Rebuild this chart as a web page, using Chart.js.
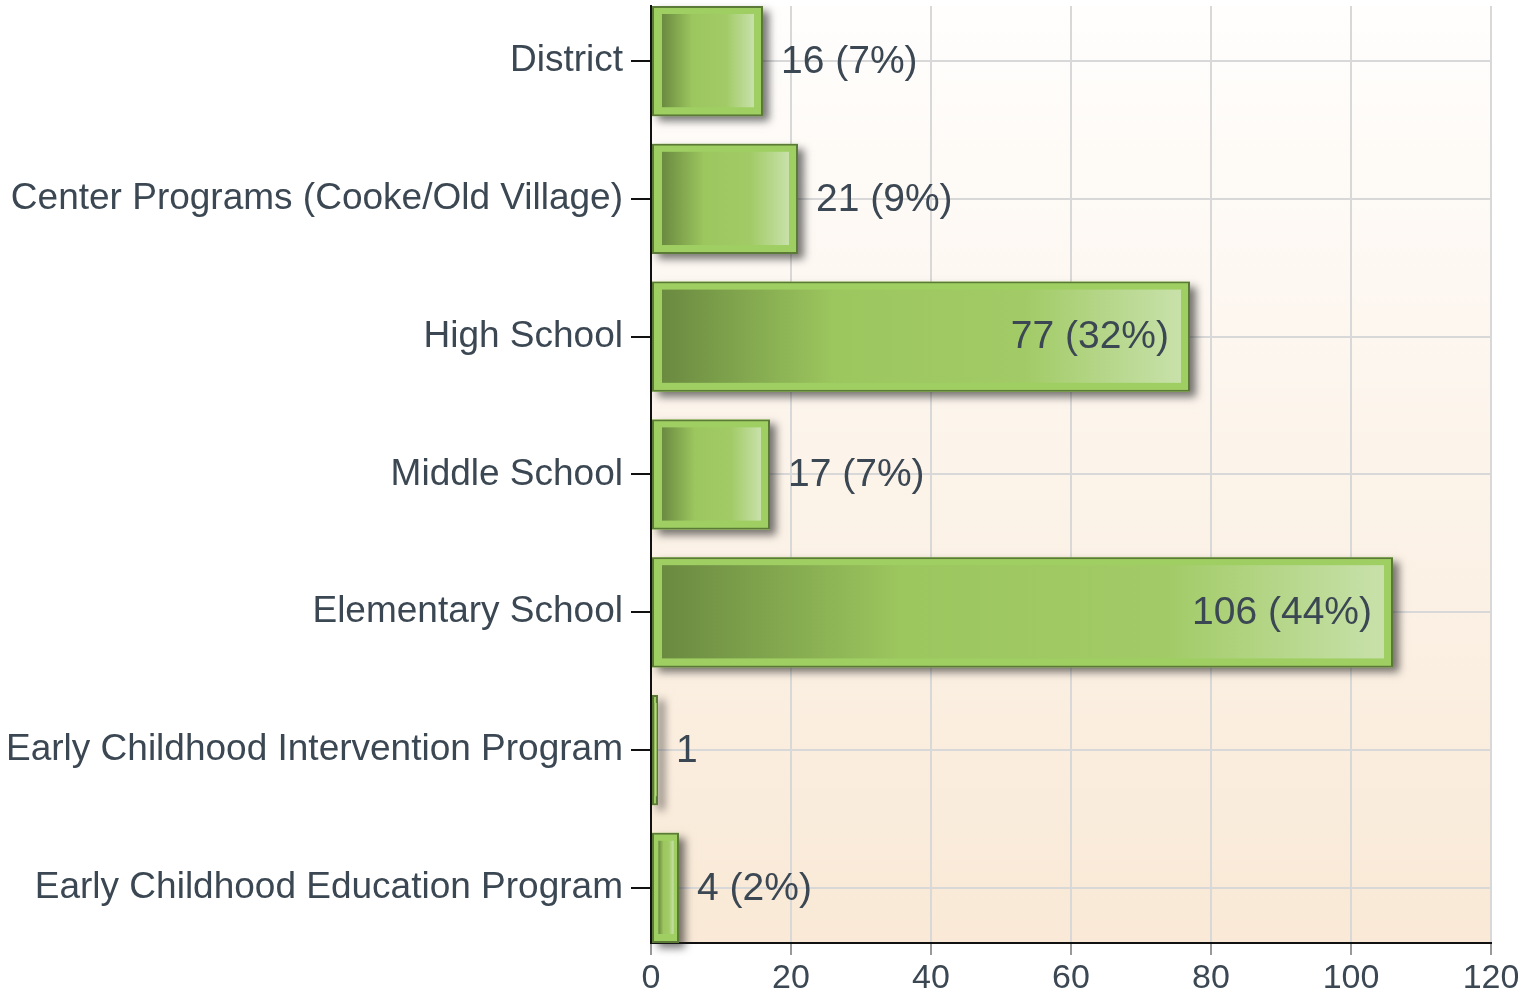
<!DOCTYPE html>
<html>
<head>
<meta charset="utf-8">
<script src="https://cdn.jsdelivr.net/npm/chart.js@4.4.1/dist/chart.umd.min.js"></script>
<style>
html,body{margin:0;padding:0;background:#fff;}
#wrap{width:1518px;height:994px;}
</style>
</head>
<body>
<div id="wrap"><canvas id="c" width="1518" height="994"></canvas></div>
<script>
const categories = ["District","Center Programs (Cooke/Old Village)","High School","Middle School","Elementary School","Early Childhood Intervention Program","Early Childhood Education Program"];
const values = [16, 21, 77, 17, 106, 1, 4];
const valueLabels = ["16 (7%)","21 (9%)","77 (32%)","17 (7%)","106 (44%)","1","4 (2%)"];
const xTicks = [0, 20, 40, 60, 80, 100, 120];

const FONT = "'Liberation Sans', Arial, sans-serif";
const TEXT = '#3b4752';

const bgPlugin = {
  id: 'bg',
  beforeDraw(chart) {
    const {ctx, chartArea: a} = chart;
    ctx.save();
    ctx.fillStyle = '#ffffff';
    ctx.fillRect(0, 0, chart.width, chart.height);
    const g = ctx.createLinearGradient(0, a.top, 0, a.bottom);
    g.addColorStop(0, '#fffefd');
    g.addColorStop(1, '#f9e9d6');
    ctx.fillStyle = g;
    ctx.fillRect(a.left, a.top, a.right - a.left, a.bottom - a.top);
    ctx.restore();
  }
};

function barRect(el) {
  const p = el.getProps(['x','y','base','height'], true);
  const l = Math.min(p.x, p.base), r = Math.max(p.x, p.base);
  return {l, r, t: p.y - p.height/2, b: p.y + p.height/2, y: p.y, x: p.x};
}

const barDeco = {
  id: 'barDeco',
  beforeDatasetsDraw(chart) {
    const ctx = chart.ctx;
    const meta = chart.getDatasetMeta(0);
    ctx.save();
    meta.data.forEach(el => {
      const r = barRect(el);
      ctx.shadowColor = 'rgba(30,30,30,0.6)';
      ctx.shadowBlur = 8;
      ctx.shadowOffsetX = 6;
      ctx.shadowOffsetY = 5;
      ctx.fillStyle = '#9fcf62';
      ctx.fillRect(r.l, r.t, r.r - r.l, r.b - r.t);
    });
    ctx.restore();
  },
  afterDatasetsDraw(chart) {
    const ctx = chart.ctx;
    const meta = chart.getDatasetMeta(0);
    ctx.save();
    meta.data.forEach((el, i) => {
      const r = barRect(el);
      const w = r.r - r.l;
      const inset = Math.min(9, w * 0.2);
      if (w > 4) {
        const il = r.l + inset + 1, ir = r.r - inset, it = r.t + 8, ib = r.b - 9;
        const g = ctx.createLinearGradient(il, 0, ir, 0);
        if (w > 20) {
          g.addColorStop(0, '#6a8a40');
          g.addColorStop(0.33, '#9cc65e');
          g.addColorStop(0.7, '#a2cb67');
          g.addColorStop(1, '#c8e1aa');
        } else {
          g.addColorStop(0, '#88b050');
          g.addColorStop(0.5, '#b6d88e');
          g.addColorStop(1, '#96c05a');
        }
        ctx.fillStyle = g;
        ctx.fillRect(il, it, ir - il, ib - it);
      }
      // value label
      ctx.font = '39px ' + FONT;
      ctx.fillStyle = TEXT;
      ctx.textBaseline = 'middle';
      const txt = valueLabels[i];
      const tw = ctx.measureText(txt).width;
      if (w > tw + 50) {
        ctx.textAlign = 'right';
        ctx.fillText(txt, r.r - 21, r.y + 1);
      } else {
        ctx.textAlign = 'left';
        ctx.fillText(txt, r.r + 18, r.y + 1);
      }
    });
    ctx.restore();
  }
};

new Chart(document.getElementById('c'), {
  type: 'bar',
  data: {
    datasets: [{
      data: values.map((v, i) => ({x: v, y: i})),
      backgroundColor: '#9fcf62',
      borderColor: '#5b7a38',
      borderWidth: 2,
      borderSkipped: false,
      categoryPercentage: 1.0,
      barPercentage: 0.8
    }]
  },
  options: {
    indexAxis: 'y',
    responsive: false,
    devicePixelRatio: 1,
    animation: false,
    layout: { padding: { top: 6, right: 27, left: 0, bottom: 0 } },
    plugins: { legend: { display: false }, tooltip: { enabled: false } },
    scales: {
      y: {
        type: 'linear',
        reverse: true,
        min: -0.4,
        max: 6.4,
        offset: false,
        afterBuildTicks(s) { s.ticks = categories.map((c, i) => ({value: i})); },
        afterFit(s) { s.width = 651; s.paddingTop = 0; s.paddingBottom = 0; },
        ticks: {
          callback: (v) => categories[v],
          font: { size: 37, family: FONT },
          color: TEXT,
          padding: 8,
          autoSkip: false
        },
        grid: { offset: false, color: '#d8d8d8', lineWidth: 2, tickColor: '#111', tickLength: 20 },
        border: { color: '#111', width: 2 }
      },
      x: {
        type: 'linear',
        min: 0,
        max: 120,
        afterBuildTicks(s) { s.ticks = xTicks.map(v => ({value: v})); },
        afterFit(s) { s.height = 51; s.paddingLeft = 0; s.paddingRight = 0; },
        ticks: {
          font: { size: 34, family: FONT },
          color: TEXT,
          padding: 3
        },
        grid: { color: '#d8d8d8', lineWidth: 2, tickColor: '#999', tickLength: 12 },
        border: { color: '#111', width: 2 }
      }
    }
  },
  plugins: [bgPlugin, barDeco]
});
</script>
</body>
</html>
